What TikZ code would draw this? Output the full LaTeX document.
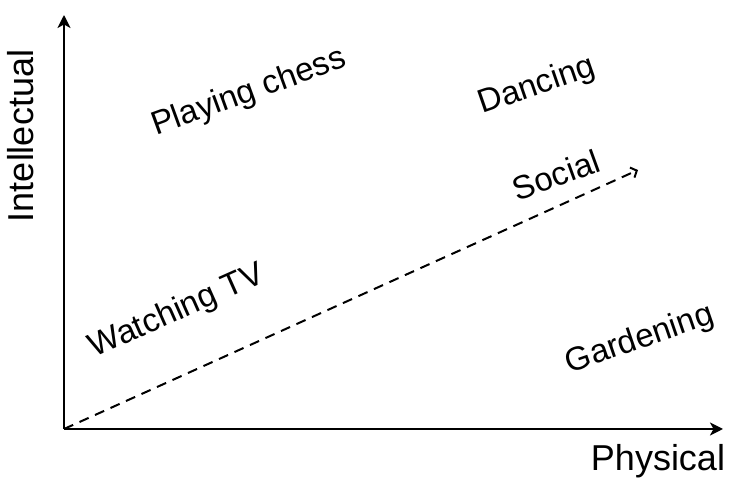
\documentclass[tikz,border=0pt]{standalone}
\usepackage{fontspec}
\setmainfont{Liberation Sans}
\usetikzlibrary{arrows.meta}
\begin{document}
\begin{tikzpicture}[x=1pt,y=1pt,
  axis/.style={line width=2.6pt, -{Stealth[length=13pt,width=13pt,inset=3.5pt]}},
  trend/.style={line width=2pt, dash pattern=on 10pt off 7pt,
    -{Straight Barb[length=5pt,width=11pt,line width=2pt]}},
  axislabel/.style={inner sep=0pt, font=\fontsize{36}{40}\selectfont},
  activity/.style={inner sep=0pt, font=\fontsize{33}{38}\selectfont}]
  \useasboundingbox (0,0) rectangle (729,478);
  % axes
  \coordinate (o) at (64,49);
  \coordinate (ytip) at (64,463);
  \coordinate (xtip) at (723,49);
  \coordinate (stip) at (638,308);
  \draw[axis] (o) -- (ytip);
  \draw[axis] (o) -- (xtip);
  \draw[trend] (o) -- (stip);
  % axis titles
  \node[axislabel, anchor=base, rotate=90] (ylab) at (33,342) {Intellectual};
  \node[axislabel, anchor=base] (xlab) at (658,7) {Physical};
  % activities
  \node[activity, rotate=20] (chess) at (249,385) {Playing chess};
  \node[activity, rotate=19] (dance) at (537,392) {Dancing};
  \node[activity, rotate=20] (social) at (556,303) {Social};
  \node[activity, rotate=24] (tv) at (177,166) {Watching TV};
  \node[activity, rotate=19] (garden) at (640,138) {Gardening};
\end{tikzpicture}
\end{document}
